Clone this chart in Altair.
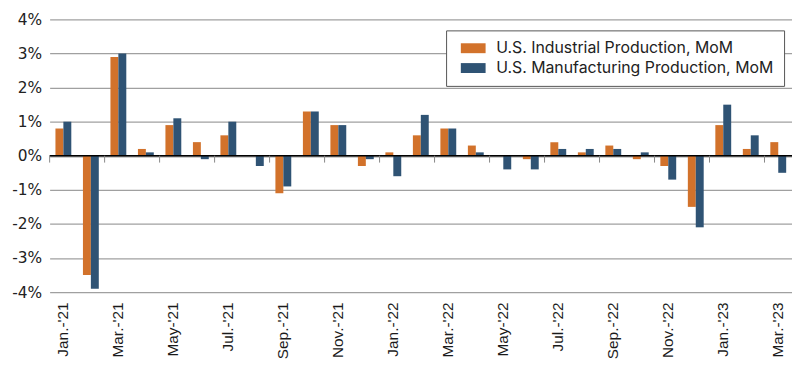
import altair as alt
import pandas as pd

months = ["Jan.-'21", "Feb.-'21", "Mar.-'21", "Apr.-'21", "May-'21", "Jun.-'21",
          "Jul.-'21", "Aug.-'21", "Sep.-'21", "Oct.-'21", "Nov.-'21", "Dec.-'21",
          "Jan.-'22", "Feb.-'22", "Mar.-'22", "Apr.-'22", "May-'22", "Jun.-'22",
          "Jul.-'22", "Aug.-'22", "Sep.-'22", "Oct.-'22", "Nov.-'22", "Dec.-'22",
          "Jan.-'23", "Feb.-'23", "Mar.-'23"]
industrial = [0.8, -3.5, 2.9, 0.2, 0.9, 0.4, 0.6, 0.0, -1.1, 1.3, 0.9, -0.3,
              0.1, 0.6, 0.8, 0.3, 0.0, -0.1, 0.4, 0.1, 0.3, -0.1, -0.3, -1.5,
              0.9, 0.2, 0.4]
manufacturing = [1.0, -3.9, 3.0, 0.1, 1.1, -0.1, 1.0, -0.3, -0.9, 1.3, 0.9, -0.1,
                 -0.6, 1.2, 0.8, 0.1, -0.4, -0.4, 0.2, 0.2, 0.2, 0.1, -0.7, -2.1,
                 1.5, 0.6, -0.5]
series = ["U.S. Industrial Production, MoM", "U.S. Manufacturing Production, MoM"]
colors = ["#D2722B", "#2F5374"]
y_ticks = [-4, -3, -2, -1, 0, 1, 2, 3, 4]
shown_months = months[::2]

rows = []
for m, a, b in zip(months, industrial, manufacturing):
    rows.append({"month": m, "series": series[0], "value": a})
    rows.append({"month": m, "series": series[1], "value": b})
df = pd.DataFrame(rows)
ticks_df = pd.DataFrame({"month": shown_months, "y": [0.0] * len(shown_months),
                         "y2": [-0.2] * len(shown_months)})

x_scale = alt.Scale(domain=months, paddingInner=0, paddingOuter=0)
y_scale = alt.Scale(domain=[-4, 4], nice=False)

x_axis = alt.Axis(values=shown_months, labelAngle=-90, ticks=False, tickSize=0,
                  domain=False, labelPadding=10, labelFont="Liberation Sans",
                  labelFontSize=15.5, labelColor="#1a1a1a", grid=False,
                  labelOverlap=False)
y_axis = alt.Axis(values=y_ticks, labelExpr="datum.value + '%'", ticks=False,
                  domain=False, grid=True, gridColor="#a0a0a0", gridWidth=1.3,
                  labelPadding=8, labelFont="DejaVu Sans", labelFontSize=15.5,
                  labelColor="#222", labelOverlap=False)

bars = alt.Chart(df).mark_bar().encode(
    x=alt.X("month:N", scale=x_scale, sort=months, title=None, axis=x_axis),
    xOffset=alt.XOffset("series:N", sort=series,
                        scale=alt.Scale(paddingInner=0, paddingOuter=0.734)),
    y=alt.Y("value:Q", scale=y_scale, title=None, axis=y_axis),
    color=alt.Color("series:N", sort=series, scale=alt.Scale(domain=series, range=colors),
                    legend=alt.Legend(title=None, orient="none", legendX=400, legendY=11,
                                      strokeColor="#555", fillColor="white", padding=10,
                                      symbolType="M-0.5,-0.8H3.5V0.8H-0.5Z",
                                      symbolSize=156, symbolStrokeWidth=0,
                                      labelOffset=24.5, rowPadding=4, labelLimit=0,
                                      labelFont="Inter", labelFontSize=16,
                                      labelColor="#222")),
)

zero = alt.Chart(pd.DataFrame({"y": [0.0]})).mark_rule(color="black", strokeWidth=1.6).encode(
    y=alt.Y("y:Q", scale=y_scale, title=None, axis=y_axis)
)

tick_marks = alt.Chart(ticks_df).mark_rule(color="#888", strokeWidth=1).encode(
    x=alt.X("month:N", scale=x_scale, sort=months, bandPosition=0, title=None, axis=x_axis),
    y=alt.Y("y:Q", scale=y_scale, title=None, axis=y_axis),
    y2="y2:Q",
)

chart = alt.layer(bars, zero, tick_marks).properties(
    width=749, height=275,
    autosize=alt.AutoSizeParams(type="none"),
    padding={"left": 42, "top": 10, "right": 0, "bottom": 70},
).configure_view(stroke=None)

chart.save("out.html", embed_options={"renderer": "svg", "actions": False})
